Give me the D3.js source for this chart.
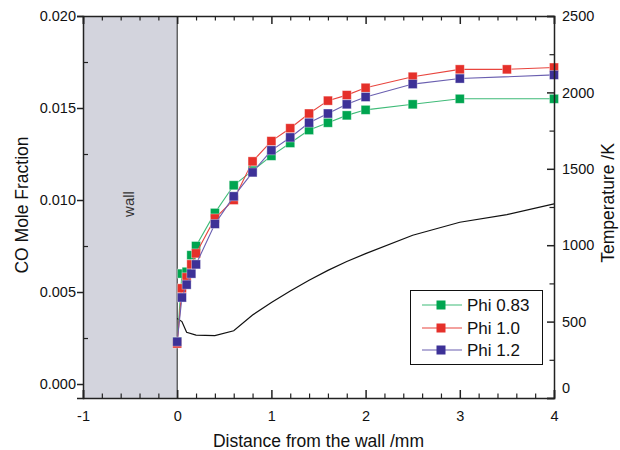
<!DOCTYPE html>
<meta charset="utf-8">

<style>

body {
  margin: 0;
  background: white;
}

svg.chart text {
  font-family: "Liberation Sans", Arial, sans-serif;
  fill: #111;
}

svg.chart .axis path,
svg.chart .axis line {
  stroke: #222;
}

svg.chart .axis text {
  font-size: 14.5px;
}

svg.chart .title {
  font-size: 17.5px;
  text-anchor: middle;
}

svg.chart .legend text {
  font-size: 17px;
}

</style>

<svg class="chart" width="620" height="450"></svg>

<script src="https://cdn.jsdelivr.net/npm/d3@7"></script>

<script>

// distance from the wall (mm); green and blue have no point at 3.5
var distance = [0, 0.05, 0.1, 0.15, 0.2, 0.4, 0.6, 0.8, 1.0, 1.2, 1.4, 1.6, 1.8, 2.0, 2.5, 3.0, 3.5, 4.0];
var phi083 = [0.0023, 0.0060, 0.0061, 0.0070, 0.0075, 0.0093, 0.0108, 0.0116, 0.0124, 0.0131, 0.0138, 0.0142, 0.0146, 0.0149, 0.0152, 0.0155, null, 0.0155];
var phi10  = [0.0022, 0.0052, 0.0058, 0.0065, 0.0071, 0.0090, 0.0100, 0.0121, 0.0132, 0.0139, 0.0147, 0.0154, 0.0157, 0.0161, 0.0167, 0.0171, 0.0171, 0.0172];
var phi12  = [0.0023, 0.0047, 0.0054, 0.0060, 0.0065, 0.0087, 0.0102, 0.0115, 0.0127, 0.0134, 0.0142, 0.0147, 0.0152, 0.0156, 0.0163, 0.0166, null, 0.0168];

// temperature profile (K)
var tempDistance = [0, 0.05, 0.1, 0.2, 0.4, 0.6, 0.8, 1.0, 1.2, 1.4, 1.6, 1.8, 2.0, 2.5, 3.0, 3.5, 4.0];
var temperature  = [520, 500, 430, 412, 408, 440, 543, 625, 700, 770, 835, 893, 945, 1065, 1150, 1200, 1270];

var seriesNames = ["Phi 0.83", "Phi 1.0", "Phi 1.2"];
var seriesColors = ["#00a550", "#e5302a", "#3d3197"];
var lineColors = ["#3fbb78", "#e8453e", "#6a5fb0"];

var xTicks = [-1, 0, 1, 2, 3, 4];
var yTicks = [0, 0.005, 0.010, 0.015, 0.020];
var tTicks = [0, 500, 1000, 1500, 2000, 2500];

var svg = d3.select("svg.chart");
var plot = {left: 83, right: 554, top: 16, bottom: 398};

var xScale = d3.scaleLinear().domain([-1, 4]).range([plot.left, plot.right]);
var yScale = d3.scaleLinear().domain([-0.00076, 0.020]).range([plot.bottom, plot.top]);
var tScale = d3.scaleLinear().domain([0, 2500]).range([plot.bottom, plot.top]);

// plain hyphen for negatives, like the original
var xFormat = function(d) { return String(d); };

// wall
svg.append("rect")
  .attr("x", xScale(-1))
  .attr("y", plot.top)
  .attr("width", xScale(0) - xScale(-1))
  .attr("height", plot.bottom - plot.top)
  .style("fill", "#d3d4dd");

svg.append("line")
  .attr("x1", xScale(0)).attr("x2", xScale(0))
  .attr("y1", plot.top).attr("y2", plot.bottom)
  .style("stroke", "#222")
  .style("stroke-width", 1);

svg.append("text")
  .attr("transform", "translate(134,204) rotate(-90)")
  .style("text-anchor", "middle")
  .style("font-size", "15px")
  .style("fill", "#333")
  .text("wall");

// temperature line
var tempLine = d3.line()
  .x(function(d) { return xScale(d[0]); })
  .y(function(d) { return tScale(d[1]); });

svg.append("path")
  .datum(d3.zip(tempDistance, temperature))
  .attr("d", tempLine)
  .style("fill", "none")
  .style("stroke", "#111")
  .style("stroke-width", 1.2);

// CO series
var coLine = d3.line()
  .x(function(d) { return xScale(d[0]); })
  .y(function(d) { return yScale(d[1]); });

[phi083, phi10, phi12].forEach(function(values, i) {
  var pts = d3.zip(distance, values).filter(function(d) { return d[1] != null; });

  svg.append("path")
    .datum(pts)
    .attr("d", coLine)
    .style("fill", "none")
    .style("stroke", lineColors[i])
    .style("stroke-width", 1.1);

  svg.selectAll(".m" + i)
    .data(pts)
    .enter().append("rect")
      .attr("class", "m" + i)
      .attr("x", function(d) { return xScale(d[0]) - 4.5; })
      .attr("y", function(d) { return yScale(d[1]) - 4.5; })
      .attr("width", 9)
      .attr("height", 9)
      .style("fill", seriesColors[i])
      .style("stroke", "rgba(255,255,255,0.45)")
      .style("stroke-width", 0.8);
});

// Axes
var minorX = d3.range(-1, 4.01, 0.2).filter(function(v) { return Math.abs(v - Math.round(v)) > 1e-6; });
var minorY = [0.0025, 0.0075, 0.0125, 0.0175];
var minorT = [250, 750, 1250, 1750, 2250];

svg.append("g")
  .attr("class", "axis")
  .attr("transform", `translate(0,${plot.bottom})`)
  .call(d3.axisBottom(xScale).tickValues(xTicks).tickSize(-8).tickPadding(13).tickFormat(xFormat))
  .call(function(g) { g.selectAll("line, path").style("stroke-width", 1.5); });

svg.append("g")
  .attr("class", "axis")
  .attr("transform", `translate(0,${plot.bottom})`)
  .call(d3.axisBottom(xScale).tickValues(minorX).tickSize(-4.5).tickFormat(""))
  .call(function(g) { g.select("path").remove(); g.selectAll("line").style("stroke-width", 1.2); });

svg.append("g")
  .attr("class", "axis")
  .attr("transform", `translate(0,${plot.top})`)
  .call(d3.axisTop(xScale).tickValues(xTicks).tickSize(-8).tickFormat(""))
  .call(function(g) { g.selectAll("line, path").style("stroke-width", 1.5); });

svg.append("g")
  .attr("class", "axis")
  .attr("transform", `translate(0,${plot.top})`)
  .call(d3.axisTop(xScale).tickValues(minorX).tickSize(-4.5).tickFormat(""))
  .call(function(g) { g.select("path").remove(); g.selectAll("line").style("stroke-width", 1.2); });

svg.append("g")
  .attr("class", "axis")
  .attr("transform", `translate(${plot.left},0)`)
  .call(d3.axisLeft(yScale).tickValues(yTicks).tickSize(6).tickPadding(1).tickFormat(d3.format(".3f")))
  .call(function(g) { g.selectAll("line, path").style("stroke-width", 1.5); });

svg.append("g")
  .attr("class", "axis")
  .attr("transform", `translate(${plot.left},0)`)
  .call(d3.axisLeft(yScale).tickValues(minorY).tickSize(-5).tickFormat(""))
  .call(function(g) { g.select("path").remove(); g.selectAll("line").style("stroke-width", 1.2); });

var rightAxis = svg.append("g")
  .attr("class", "axis")
  .attr("transform", `translate(${plot.right},0)`)
  .call(d3.axisRight(tScale).tickValues(tTicks).tickSize(-7).tickPadding(8).tickFormat(d3.format("d")))
  .call(function(g) { g.selectAll("line, path").style("stroke-width", 1.5); });

// the zero label sits a little above its tick
rightAxis.selectAll(".tick text")
  .filter(function(d) { return d === 0; })
  .attr("y", -10);

svg.append("g")
  .attr("class", "axis")
  .attr("transform", `translate(${plot.right},0)`)
  .call(d3.axisRight(tScale).tickValues(minorT).tickSize(-4.5).tickFormat(""))
  .call(function(g) { g.select("path").remove(); g.selectAll("line").style("stroke-width", 1.2); });

// Titles
svg.append("text")
  .attr("class", "title")
  .attr("x", (plot.left + plot.right) / 2)
  .attr("y", 447)
  .text("Distance from the wall /mm");

svg.append("text")
  .attr("class", "title")
  .attr("transform", "translate(28,205) rotate(-90)")
  .text("CO Mole Fraction");

svg.append("text")
  .attr("class", "title")
  .attr("transform", "translate(614,203) rotate(-90)")
  .text("Temperature /K");

// Legend
var legend = svg.append("g").attr("class", "legend");

legend.append("rect")
  .attr("x", 410.5)
  .attr("y", 290.5)
  .attr("width", 132)
  .attr("height", 74)
  .style("fill", "white")
  .style("stroke", "#111")
  .style("stroke-width", 1);

var legendY = [305, 328, 350];

seriesNames.forEach(function(name, i) {
  var row = legend.append("g").attr("transform", `translate(0,${legendY[i]})`);
  row.append("line")
    .attr("x1", 422).attr("x2", 462)
    .style("stroke", lineColors[i])
    .style("stroke-width", 1.1);
  row.append("rect")
    .attr("x", 441 - 4.5).attr("y", -4.5)
    .attr("width", 9).attr("height", 9)
    .style("fill", seriesColors[i]);
  row.append("text")
    .attr("x", 467)
    .attr("dy", "0.36em")
    .text(name);
});

</script>
